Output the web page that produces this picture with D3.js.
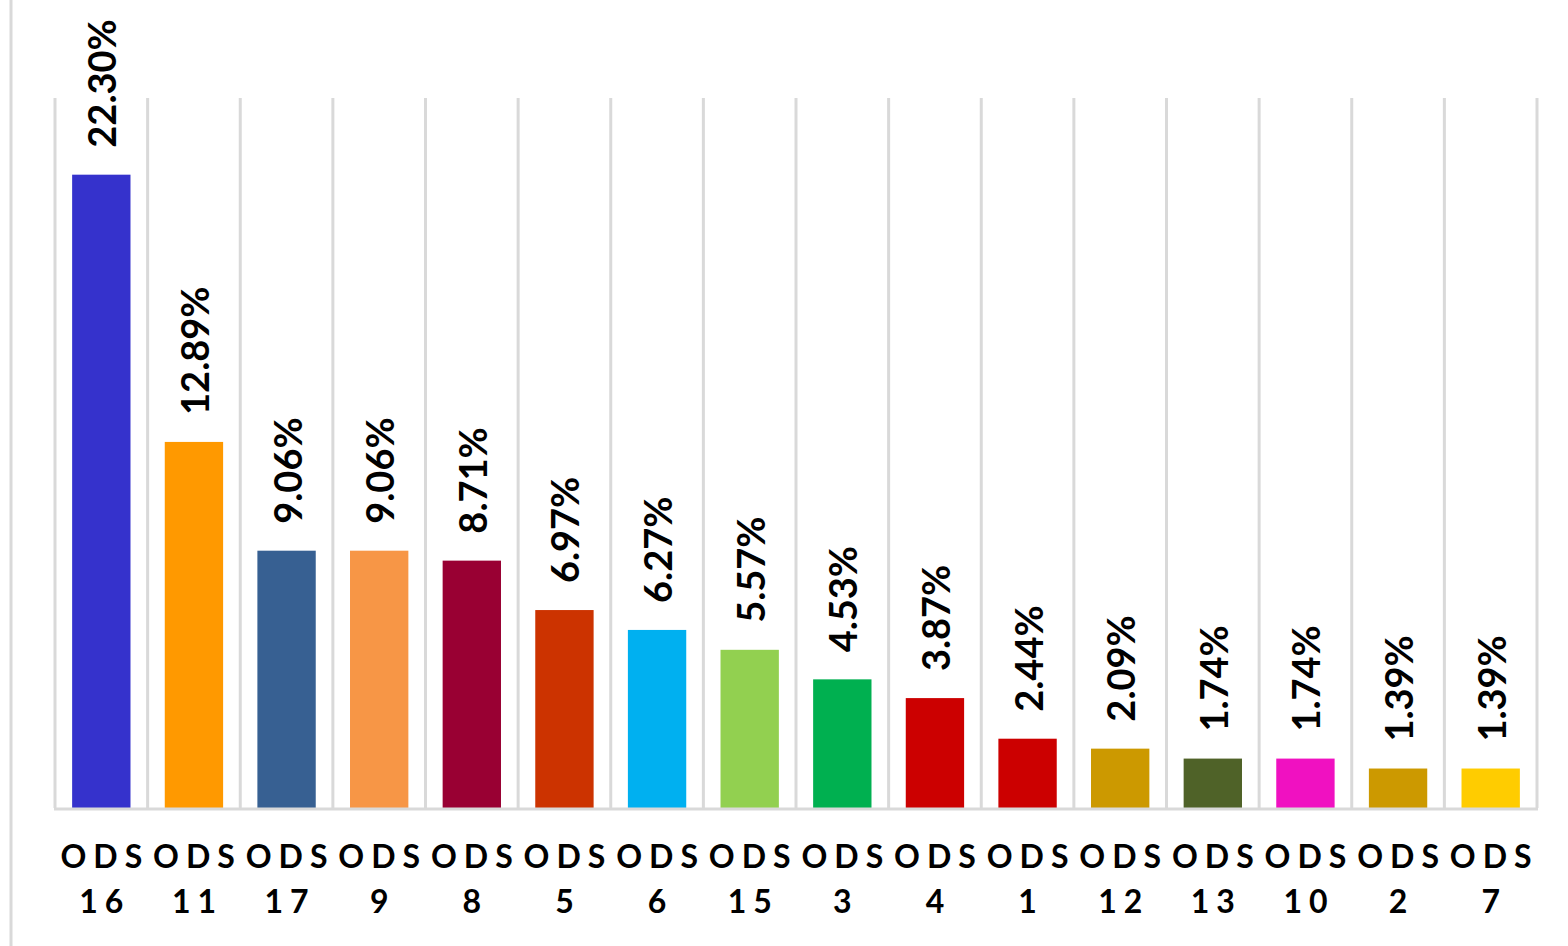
<!DOCTYPE html>
<html>
<head>
<meta charset="utf-8">
<script src="https://cdn.jsdelivr.net/npm/d3@7/dist/d3.min.js"></script>
<style>
  html, body { margin: 0; padding: 0; background: #ffffff; }
  svg { display: block; }
  text { font-family: Lato, "Open Sans", sans-serif; font-weight: bold; fill: #000; }
</style>
</head>
<body>
<svg id="chart" width="1568" height="946"></svg>
<script>
const categories = ["16","11","17","9","8","5","6","15","3","4","1","12","13","10","2","7"];
const values = [22.30, 12.89, 9.06, 9.06, 8.71, 6.97, 6.27, 5.57, 4.53, 3.87, 2.44, 2.09, 1.74, 1.74, 1.39, 1.39];
const colors = ["#3532CC","#FF9900","#376092","#F79646","#990033","#CC3300","#00B0F0","#92D050","#00B050","#CC0000","#CC0000","#CC9900","#4F6228","#F011C1","#CC9900","#FFCC00"];
const labels = ["22.30%","12.89%","9.06%","9.06%","8.71%","6.97%","6.27%","5.57%","4.53%","3.87%","2.44%","2.09%","1.74%","1.74%","1.39%","1.39%"];

const svg = d3.select("#chart");
const plotLeft = 55, plotRight = 1537, plotTop = 98, plotBottom = 808;

const xGrid = d3.scaleBand().domain(categories).range([plotLeft, plotRight]).padding(0);
const xBar = d3.scaleBand().domain(categories).range([plotLeft, plotRight]).paddingInner(0.37).paddingOuter(0.185);
const y = d3.scaleLinear().domain([0, 25]).range([plotBottom, plotTop]);

const grid = "#d9d9d9";
// outer left border
svg.append("line").attr("x1", 11).attr("x2", 11).attr("y1", 0).attr("y2", 946)
  .attr("stroke", grid).attr("stroke-width", 3);

// vertical gridlines at band boundaries
const bounds = categories.map(c => xGrid(c)).concat([plotRight]);
svg.append("g").selectAll("line").data(bounds).join("line")
  .attr("x1", d => d).attr("x2", d => d)
  .attr("y1", y(25)).attr("y2", y(0))
  .attr("stroke", grid).attr("stroke-width", 3);

// bars
svg.append("g").selectAll("rect").data(categories).join("rect")
  .attr("x", d => xBar(d))
  .attr("width", xBar.bandwidth())
  .attr("y", (d, i) => y(values[i]))
  .attr("height", (d, i) => y(0) - y(values[i]))
  .attr("fill", (d, i) => colors[i]);

// baseline
svg.append("line").attr("x1", plotLeft - 1).attr("x2", plotRight + 1).attr("y1", y(0) + 1).attr("y2", y(0) + 1)
  .attr("stroke", grid).attr("stroke-width", 3);

// value labels (rotated)
svg.append("g").selectAll("text").data(categories).join("text")
  .attr("transform", (d, i) => {
    const cx = xGrid(d) + xGrid.bandwidth() / 2 + 15;
    const yy = y(values[i]) - 27;
    return `translate(${cx},${yy}) rotate(-90)`;
  })
  .attr("text-anchor", "start")
  .style("font-size", "38px")
  .text((d, i) => labels[i]);

// category labels
const ls = 7;
const cat = svg.append("g").selectAll("g").data(categories).join("g")
  .attr("transform", d => `translate(${xGrid(d) + xGrid.bandwidth() / 2 + ls / 2},0)`);
cat.append("text").attr("y", 868).attr("text-anchor", "middle")
  .style("font-size", "32px").style("letter-spacing", ls + "px").text("ODS");
cat.append("text").attr("y", 913).attr("text-anchor", "middle")
  .style("font-size", "32px").style("letter-spacing", ls + "px").text(d => d);
</script>
</body>
</html>
